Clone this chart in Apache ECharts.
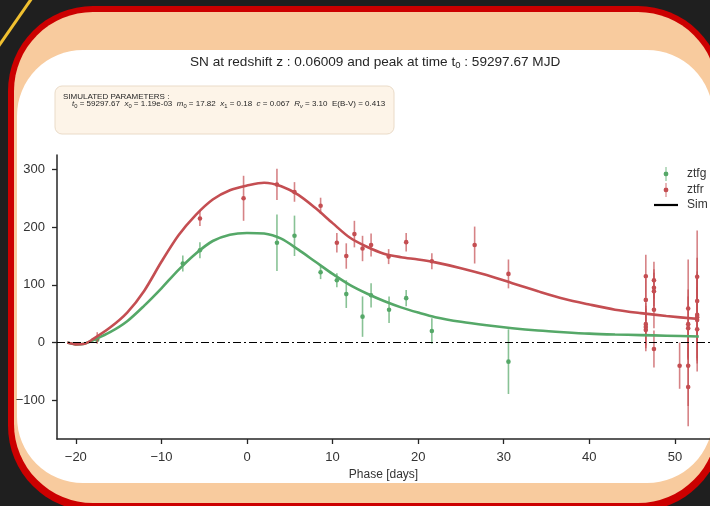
<!DOCTYPE html>
<html>
<head>
<meta charset="utf-8">
<script src="https://cdn.jsdelivr.net/npm/echarts@6/dist/echarts.min.js"></script>
<style>
  html, body { margin: 0; padding: 0; background: #1f1f1f; }
  #chart { width: 710px; height: 506px; }
</style>
</head>
<body>
<div id="chart"></div>
<script>
// simulated model light curves
const modelPhase = [-21, -20, -19, -18, -16, -14, -12, -10, -8, -6, -4, -2, 0, 2, 4, 6, 8, 10, 12, 14, 16, 18, 20, 22, 25, 28, 31, 34, 37, 40, 43, 46, 49, 52.8]
const rModelFlux = [0, -3, -2, 6, 26, 52, 90, 140, 186, 221, 248, 264, 272, 277, 271, 256, 233, 207, 182, 166, 154, 148, 144, 139, 129, 117, 103, 89, 76, 66, 57, 51, 46, 41]
const gModelFlux = [0, -3, -2, 4, 18, 37, 64, 94, 126, 154, 176, 187, 190, 189, 180, 161, 140, 119, 100, 85, 72, 61, 52, 44, 36, 30, 25, 21, 18, 15.5, 14, 13, 12, 10.5]

// observed fluxes (ztfg)
const gPhase = [-17.5, -7.5, -5.5, 3.5, 5.55, 8.6, 10.5, 11.6, 13.5, 14.5, 16.6, 18.6, 21.6, 30.55]
const gFlux = [5, 137, 160, 173, 185, 122, 108, 84, 45, 82, 57, 77, 20, -33]
const gErr = [5, 14, 14, 49, 35, 12, 12, 24, 35, 21, 23, 14, 22, 56]

// observed fluxes (ztfr)
const rPhase = [-17.5, -5.5, -0.4, 3.5, 5.55, 8.6, 10.5, 11.6, 12.55, 13.5, 14.5, 16.55, 18.6, 21.6, 26.6, 30.55,
  46.6, 46.6, 46.6, 46.6, 46.6, 47.55, 47.55, 47.55, 47.55, 47.55, 50.55,
  51.55, 51.55, 51.55, 51.55, 51.55, 52.6, 52.6, 52.6, 52.6, 52.6, 52.6]
const rFlux = [8, 215, 250, 274, 261, 237, 173, 150, 188, 163, 169, 149, 174, 141, 169, 119,
  115, 74, 32, 27, 22, 108, 95, 89, 57, -11, -40,
  59, 32, 25, -40, -77, 114, 72, 48, 44, 39, 23]
const rErr = [10, 13, 39, 27, 17, 14, 17, 22, 23, 22, 20, 13, 16, 14, 32, 25,
  37, 37, 37, 37, 37, 32, 32, 32, 32, 32, 40,
  85, 60, 55, 70, 68, 80, 75, 75, 75, 75, 73]

const xTicks = [-20, -10, 0, 10, 20, 30, 40, 50]
const yTicks = [-100, 0, 100, 200, 300]

const green = '#55a868'
const red = '#c44e52'
const font = '"Liberation Sans", Arial, sans-serif'

const errorBars = (color) => (params, api) => {
  const x = api.value(0), y = api.value(1), e = api.value(2)
  const top = api.coord([x, y + e])
  const bot = api.coord([x, y - e])
  const mid = api.coord([x, y])
  return {
    type: 'group',
    children: [
      { type: 'line', shape: { x1: top[0], y1: top[1], x2: bot[0], y2: bot[1] }, style: { stroke: color, lineWidth: 1.6, opacity: 0.7 } },
      { type: 'circle', shape: { cx: mid[0], cy: mid[1], r: 2.3 }, style: { fill: color } }
    ]
  }
}

const zip = (a, b, c) => a.map((v, i) => c ? [v, b[i], c[i]] : [v, b[i]])
const minus = (v) => String(v).replace('-', '\u2212')

const barIcon = 'path://M2.1,0 L2.9,0 L2.9,14 L2.1,14 Z M2.5,4.6 A2.4,2.4 0 1 1 2.49,4.6 Z'
const lineIcon = 'path://M0,0 L24,0 L24,2.2 L0,2.2 Z'

const myChart = echarts.init(document.getElementById('chart'))
myChart.setOption({
  animation: false,
  backgroundColor: '#1f1f1f',
  textStyle: { fontFamily: font },
  graphic: [
    { type: 'line', z: -10, shape: { x1: -2, y1: 47, x2: 32, y2: -2 }, style: { stroke: '#f0c030', lineWidth: 3 } },
    { type: 'rect', z: -10, shape: { x: 8, y: 6, width: 715, height: 505, r: 85 }, style: { fill: '#cc0000' } },
    { type: 'rect', z: -9, shape: { x: 14, y: 12, width: 703, height: 491, r: 79 }, style: { fill: '#f8cb9e' } },
    { type: 'rect', z: -8, shape: { x: 17, y: 50, width: 696, height: 433, r: 66 }, style: { fill: '#ffffff' } },
    { type: 'rect', z: -7, shape: { x: 55, y: 86, width: 339, height: 48, r: 7 }, style: { fill: '#fdf4e8', stroke: '#eadbc8', lineWidth: 1 } },
    {
      type: 'text', z: 5, left: 63, top: 93,
      style: { text: 'SIMULATED PARAMETERS :', fontSize: 8, fill: '#262626', fontFamily: font }
    },
    {
      type: 'text', z: 5, left: 72, top: 100,
      style: {
        text: '{i|t}{s|0}{n| = 59297.67  }{i|x}{s|0}{n| = 1.19e-03  }{i|m}{s|0}{n| = 17.82  }{i|x}{s|1}{n| = 0.18  }{i|c}{n| = 0.067  }{i|R}{si|v}{n| = 3.10  E(B-V) = 0.413}',
        fontFamily: font,
        rich: {
          n: { fontSize: 8, fill: '#262626', lineHeight: 10, fontFamily: font },
          i: { fontSize: 8, fill: '#262626', fontStyle: 'italic', lineHeight: 10, fontFamily: font },
          s: { fontSize: 5.8, fill: '#262626', lineHeight: 6, verticalAlign: 'bottom', fontFamily: font },
          si: { fontSize: 5.8, fill: '#262626', fontStyle: 'italic', lineHeight: 6, verticalAlign: 'bottom', fontFamily: font }
        }
      }
    },
    {
      type: 'text', z: 5, left: 190, top: 55,
      style: {
        text: '{a|SN at redshift z : 0.06009 and peak at time t}{b|0}{a| : 59297.67 MJD}',
        fontFamily: font,
        rich: {
          a: { fontSize: 13.6, fill: '#262626', lineHeight: 17, fontFamily: font },
          b: { fontSize: 9.5, fill: '#262626', lineHeight: 10, verticalAlign: 'bottom', fontFamily: font }
        }
      }
    }
  ],
  grid: { left: 57, top: 155, width: 654, height: 284 },
  legend: {
    orient: 'vertical',
    left: 649,
    top: 162,
    itemWidth: 24,
    itemHeight: 14,
    itemGap: 2,
    symbolKeepAspect: true,
    textStyle: { fontSize: 12, color: '#333', fontFamily: font, padding: [0, 0, 0, 4] },
    data: [
      { name: 'ztfg', icon: barIcon },
      { name: 'ztfr', icon: barIcon },
      { name: 'Sim', icon: lineIcon }
    ]
  },
  xAxis: {
    type: 'value',
    min: -22.2,
    max: 54.1,
    name: 'Phase [days]',
    nameLocation: 'middle',
    nameGap: 27,
    nameTextStyle: { fontSize: 12, color: '#333', fontFamily: font },
    splitLine: { show: false },
    axisLine: { onZero: false, lineStyle: { color: '#262626', width: 1.5 } },
    axisTick: { customValues: xTicks, length: 5, lineStyle: { color: '#262626', width: 1.3 } },
    axisLabel: { customValues: xTicks, formatter: minus, fontSize: 13, color: '#333', margin: 12, fontFamily: font }
  },
  yAxis: {
    type: 'value',
    min: -167,
    max: 325,
    splitLine: { show: false },
    axisLine: { show: true, onZero: false, lineStyle: { color: '#262626', width: 1.5 } },
    axisTick: { show: true, customValues: yTicks, length: 5, lineStyle: { color: '#262626', width: 1.3 } },
    axisLabel: { customValues: yTicks, formatter: minus, fontSize: 13, color: '#333', margin: 12, fontFamily: font }
  },
  series: [
    {
      name: 'ztfg',
      type: 'custom',
      itemStyle: { color: green },
      renderItem: errorBars(green),
      encode: { x: 0, y: 1 },
      data: zip(gPhase, gFlux, gErr),
      markLine: {
        silent: true,
        symbol: 'none',
        label: { show: false },
        lineStyle: { color: '#000', width: 1.2, type: [8, 3, 2, 3] },
        data: [{ yAxis: 0 }]
      }
    },
    {
      name: 'ztfr',
      type: 'custom',
      itemStyle: { color: red },
      renderItem: errorBars(red),
      encode: { x: 0, y: 1 },
      data: zip(rPhase, rFlux, rErr)
    },
    {
      name: 'Sim',
      type: 'line',
      itemStyle: { color: '#000' },
      data: []
    },
    {
      name: 'gModel',
      type: 'line',
      smooth: 0.3,
      showSymbol: false,
      lineStyle: { color: green, width: 2.6 },
      data: zip(modelPhase, gModelFlux)
    },
    {
      name: 'rModel',
      type: 'line',
      smooth: 0.3,
      showSymbol: false,
      lineStyle: { color: red, width: 2.6 },
      data: zip(modelPhase, rModelFlux)
    }
  ]
})
</script>
</body>
</html>
